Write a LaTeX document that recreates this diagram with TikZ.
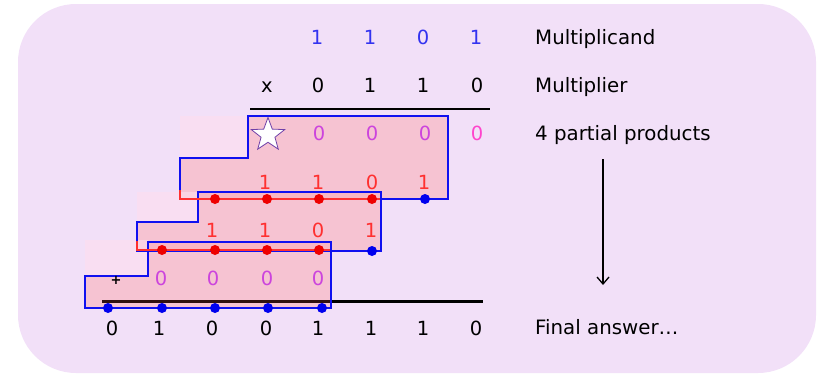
\documentclass[tikz,border=0pt]{standalone}
\usepackage{fontspec}
\setmainfont{DejaVu Sans}
\usetikzlibrary{shapes.geometric,arrows.meta}
\definecolor{bgl}{HTML}{F2E0F8}
\definecolor{pinkfill}{HTML}{FAB0BA}
\definecolor{pinklight}{HTML}{FEDEEE}
\definecolor{mblue}{HTML}{3333F0}
\definecolor{ppurple}{HTML}{CC44DD}
\definecolor{pmag}{HTML}{FF44CC}
\definecolor{pred}{HTML}{FF3030}
\definecolor{oblue}{HTML}{1010F0}
\definecolor{dotred}{HTML}{EE0000}
\definecolor{dotblue}{HTML}{0000EE}
\definecolor{starline}{HTML}{7040A8}
\definecolor{sumdark}{HTML}{301010}

\begin{document}
\begin{tikzpicture}[x=1pt,y=-1pt,
  digit/.style={anchor=base, inner sep=0pt, font=\fontsize{19.5}{22}\selectfont},
  sidetext/.style={anchor=base west, inner sep=0pt, font=\fontsize{19.8}{24}\selectfont},
  darkblock/.style={fill=pinkfill, fill opacity=0.6},
  lightblock/.style={fill=pinklight, fill opacity=0.6},
  outline/.style={draw=oblue, line width=2pt, line join=miter},
  carry/.style={draw=pred, line width=2pt},
  rdot/.style={circle, fill=dotred, inner sep=0pt, minimum size=10pt},
  bdot/.style={circle, fill=dotblue, inner sep=0pt, minimum size=10pt},
  rule/.style={draw=black, line width=2.4pt}]

\useasboundingbox (0,0) rectangle (818,375);

% background panel
\fill[bgl, rounded corners=58pt] (18,4) rectangle (816,373);

% product rule
\coordinate (prodL) at (250,109);
\coordinate (prodR) at (490,109);
\draw[rule] (prodL) -- (prodR);

% block fills
\fill[lightblock] (180,116) rectangle (248,158);
\fill[darkblock] (248,116) -- (448,116) -- (448,199) -- (180,199) -- (180,158) -- (248,158) -- cycle;
\fill[lightblock] (137,192) rectangle (198,222);
\fill[darkblock] (198,192) -- (381,192) -- (381,251) -- (137,251) -- (137,222) -- (198,222) -- cycle;
\fill[lightblock] (85,240) rectangle (148,276);
\fill[darkblock] (148,242) -- (331,242) -- (331,308) -- (85,308) -- (85,276) -- (148,276) -- cycle;

% sum rule, darker where it crosses the last block
\coordinate (sumL) at (102,301);
\coordinate (sumM) at (331,301);
\coordinate (sumR) at (483,301);
\draw[rule, line width=3pt, draw=sumdark] (sumL) -- (sumM);
\draw[rule, line width=3pt] (sumM) -- (sumR);

% block outlines
\draw[outline] (248,116) -- (448,116) -- (448,199) -- (180,199) -- (180,158) -- (248,158) -- cycle;
\draw[outline] (198,192) -- (381,192) -- (381,251) -- (137,251) -- (137,222) -- (198,222) -- cycle;
\draw[outline] (148,242) -- (331,242) -- (331,308) -- (85,308) -- (85,276) -- (148,276) -- cycle;

% carry lines
\draw[carry] (180,190) -- (180,199) -- (380,199);
\draw[carry] (137,241) -- (137,250) -- (330,250);

% dots
\foreach \x [count=\i] in {215,267,319,372} \node[rdot] (ra\i) at (\x,199) {};
\node[bdot] (ba1) at (425,199) {};
\foreach \x [count=\i] in {162,215,267,319} \node[rdot] (rb\i) at (\x,250) {};
\node[bdot] (bb1) at (372,251) {};
\foreach \x [count=\i] in {108,162,215,268,322} \node[bdot] (bc\i) at (\x,308) {};

% multiplicand
\foreach \d/\x [count=\i] in {1/317,1/370,0/423,1/476}
  \node[digit, text=mblue] (mc\i) at (\x,44) {\d};
% multiplier
\node[digit] (times) at (267,92.5) {x};
\foreach \d/\x [count=\i] in {0/318,1/370,1/423,0/477}
  \node[digit] (mp\i) at (\x,92.5) {\d};

% partial product 1
\node[star, star points=5, star point ratio=2.4, draw=starline, fill=white,
      line width=0.8pt, minimum size=35pt, inner sep=0pt] (star) at (268,135) {};
\foreach \x [count=\i] in {319,372,425}
  \node[digit, text=ppurple] (pa\i) at (\x,140.5) {0};
\node[digit, text=pmag] (pa4) at (477,140.5) {0};
% partial product 2
\foreach \d/\x [count=\i] in {1/265,1/318,0/372,1/424}
  \node[digit, text=pred] (pb\i) at (\x,189) {\d};
% partial product 3
\foreach \d/\x [count=\i] in {1/212,1/265,0/318,1/371}
  \node[digit, text=pred] (pc\i) at (\x,237) {\d};
% partial product 4
\node[anchor=base, inner sep=0pt, font=\fontsize{13}{14}\selectfont\bfseries] (plus) at (116,284) {+};
\foreach \x [count=\i] in {161,213,267,318}
  \node[digit, text=ppurple] (pd\i) at (\x,285) {0};

% final answer
\foreach \d/\x [count=\i] in {0/112,1/159,0/212,0/266,1/318,1/371,1/423,0/476}
  \node[digit] (fa\i) at (\x,335) {\d};

% side captions
\node[sidetext] (capA) at (535,44) {Multiplicand};
\node[sidetext] (capB) at (535,92.5) {Multiplier};
\node[sidetext] (capC) at (535,140.5) {4 partial products};
\node[sidetext] (capD) at (535,334) {Final answer…};

% arrow from partial products to the answer
\coordinate (arrTop) at (603,159);
\coordinate (arrBot) at (603,285);
\draw[line width=1.3pt, -{Straight Barb[length=7pt,width=12pt]}] (arrTop) -- (arrBot);

\end{tikzpicture}
\end{document}
